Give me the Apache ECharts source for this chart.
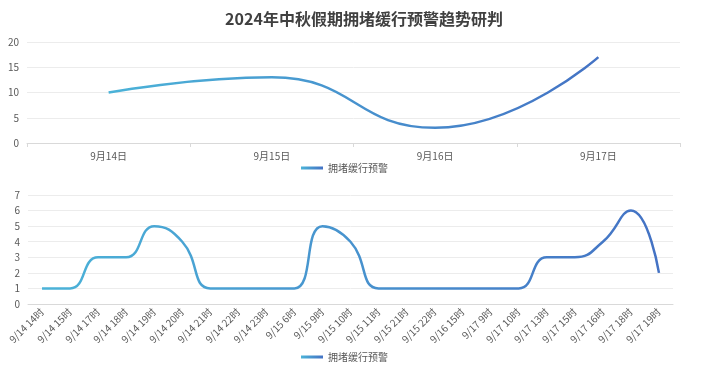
<!DOCTYPE html>
<html><head><meta charset="utf-8">
<script src="https://cdn.jsdelivr.net/npm/echarts@6/dist/echarts.min.js"></script>
<style>html,body{margin:0;padding:0;background:#fff}#c{width:728px;height:366px}</style>
</head><body><div id="c"></div>
<script>
const title = '2024年中秋假期拥堵缓行预警趋势研判';
const seriesName = '拥堵缓行预警';
const dayCats = ['9月14日','9月15日','9月16日','9月17日'];
const dayVals = [10, 13, 3, 17];
const hourCats = ['9/14 14时','9/14 15时','9/14 17时','9/14 18时','9/14 19时','9/14 20时','9/14 21时','9/14 22时','9/14 23时','9/15 6时','9/15 9时','9/15 10时','9/15 11时','9/15 21时','9/15 22时','9/16 15时','9/17 9时','9/17 10时','9/17 13时','9/17 15时','9/17 16时','9/17 18时','9/17 19时'];
const hourVals = [1,1,3,3,5,4,1,1,1,1,5,4,1,1,1,1,1,1,3,3,4,6,2];

const grad = () => new echarts.graphic.LinearGradient(0,0,1,0,[{offset:0,color:'#4bb3d8'},{offset:1,color:'#4472c4'}]);
const font = '"Noto Sans CJK SC", "Noto Sans", sans-serif';
const chart = echarts.init(document.getElementById('c'), null, {renderer:'canvas'});
const axisLbl = {color:'#595959', fontSize:10, fontFamily:font};
chart.setOption({
  animation:false,
  title:{text:title, left:'center', top:6, textStyle:{fontSize:16, fontWeight:'bold', color:'#404040', fontFamily:font}},
  legend:[
    {data:[seriesName], left:296, top:158, itemWidth:22, itemHeight:3, itemGap:4, icon:'rect', textStyle:{color:'#595959', fontSize:10, fontFamily:font}, selectedMode:false},
    {data:[seriesName], left:296, top:347, itemWidth:22, itemHeight:3, icon:'rect', textStyle:{color:'#595959', fontSize:10, fontFamily:font}, selectedMode:false}
  ],
  grid:[
    {left:27, right:48, top:42, bottom:223},
    {left:28, right:55, top:195, bottom:62}
  ],
  xAxis:[
    {type:'category', gridIndex:0, data:dayCats, boundaryGap:true,
     axisLine:{lineStyle:{color:'#d9d9d9'}}, axisTick:{show:true, length:4, lineStyle:{color:'#d9d9d9'}},
     axisLabel:Object.assign({margin:8}, axisLbl)},
    {type:'category', gridIndex:1, data:hourCats, boundaryGap:true,
     axisLine:{lineStyle:{color:'#d9d9d9'}}, axisTick:{show:false},
     axisLabel:Object.assign({rotate:45, interval:0, margin:6}, axisLbl)}
  ],
  yAxis:[
    {type:'value', gridIndex:0, min:0, max:20, interval:5, axisLine:{show:false}, axisTick:{show:false},
     splitLine:{lineStyle:{color:'#ececec'}}, axisLabel:Object.assign({margin:8}, axisLbl)},
    {type:'value', gridIndex:1, min:0, max:7, interval:1, axisLine:{show:false}, axisTick:{show:false},
     splitLine:{lineStyle:{color:'#ececec'}}, axisLabel:Object.assign({margin:8}, axisLbl)}
  ],
  series:[
    {name:seriesName, type:'line', xAxisIndex:0, yAxisIndex:0, data:dayVals, smooth:0.5, showSymbol:false, symbol:'none',
     lineStyle:{width:2.5, color:grad()}, itemStyle:{color:grad()}},
    {name:seriesName, type:'line', xAxisIndex:1, yAxisIndex:1, data:hourVals, smooth:0.5, showSymbol:false, symbol:'none',
     lineStyle:{width:2.5, color:grad()}, itemStyle:{color:grad()}}
  ]
});
</script></body></html>
